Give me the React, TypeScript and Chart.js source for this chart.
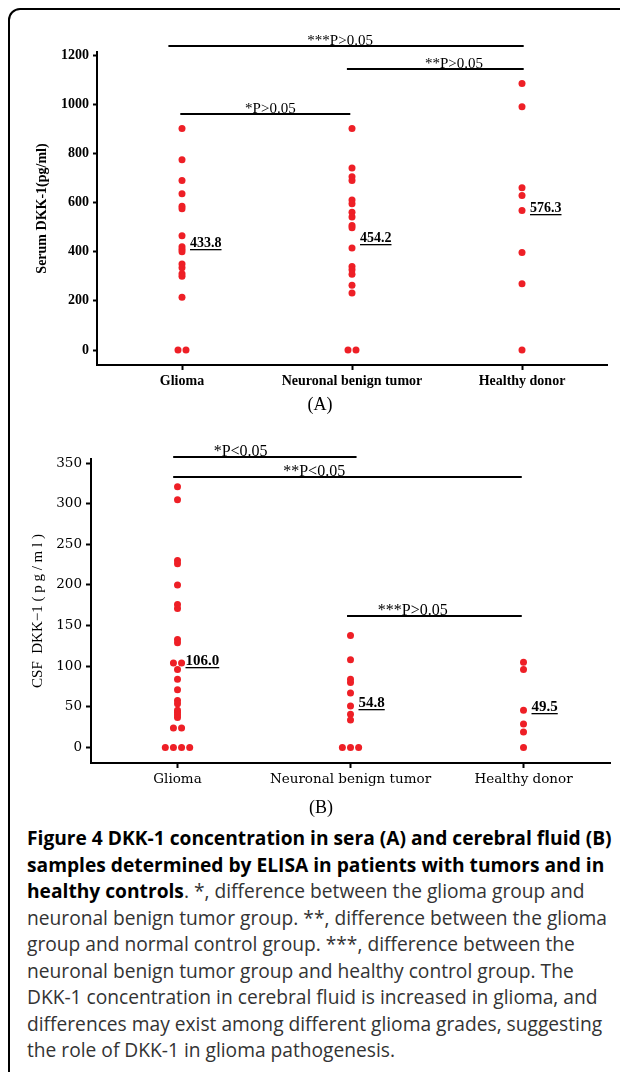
import React, { useEffect, useRef } from 'react';
import { Chart, registerables } from 'chart.js';

Chart.register(...registerables);

const categories = ['Glioma', 'Neuronal benign tumor', 'Healthy donor'];

// (A) Serum DKK-1 (pg/ml)
const serumGlioma = [902, 774, 690, 636, 585, 575, 465, 420, 410, 400, 350, 335, 310, 300, 215, 0, 0];
const serumNeuronal = [902, 741, 705, 690, 611, 595, 561, 541, 507, 498, 415, 340, 327, 308, 264, 232, 0, 0];
const serumHealthy = [1085, 990, 660, 629, 568, 397, 270, 0];
const serumMeans = [433.8, 454.2, 576.3];
const serumMeanLabels = ['433.8', '454.2', '576.3'];
const serumTicks = [0, 200, 400, 600, 800, 1000, 1200];
const serumBracketText = ['***P>0.05', '**P>0.05', '*P>0.05'];
const serumBracketFrom = [-0.08, 0.97, -0.01];
const serumBracketTo = [2.01, 2.01, 0.99];
const serumBracketLevel = [1236, 1144, 961];
const serumBracketLabelAt = [0.93, 1.6, 0.52];

// (B) CSF DKK-1 (pg/ml)
const csfGlioma = [321, 305, 230, 226, 200, 176, 171, 133, 129, 104, 104, 96, 84, 71, 58, 54, 46, 43, 40, 37, 24, 24, 0, 0, 0, 0];
const csfNeuronal = [138, 108, 84, 80, 67, 51, 41, 34, 0, 0, 0];
const csfHealthy = [105, 96, 46, 29, 19, 0];
const csfMeans = [106.0, 54.8, 49.5];
const csfMeanLabels = ['106.0', '54.8', '49.5'];
const csfTicks = [0, 50, 100, 150, 200, 250, 300, 350];
const csfBracketText = ['*P<0.05', '**P<0.05', '***P>0.05'];
const csfBracketFrom = [-0.025, -0.025, 0.98];
const csfBracketTo = [1.035, 1.99, 1.99];
const csfBracketLevel = [358, 333, 162];
const csfBracketLabelAt = [0.365, 0.79, 1.36];

const RED = '#EE1F26';

function buildPoints(groups: number[][], step: number) {
  const pts: { x: number; y: number }[] = [];
  groups.forEach((vals, ci) => {
    const counts = new Map<number, number>();
    vals.forEach((v) => counts.set(v, (counts.get(v) || 0) + 1));
    const seen = new Map<number, number>();
    vals.forEach((v) => {
      const n = counts.get(v)!;
      const k = seen.get(v) || 0;
      seen.set(v, k + 1);
      pts.push({ x: ci + (k - (n - 1) / 2) * step, y: v });
    });
  });
  return pts;
}

type Panel = {
  groups: number[][];
  step: number;
  yMin: number;
  yMax: number;
  yTicks: number[];
  means: number[];
  meanLabels: string[];
  bText: string[];
  bFrom: number[];
  bTo: number[];
  bLevel: number[];
  bLabelAt: number[];
  tickFont: any;
  titleText: string;
  titleFont: any;
  titlePad: number;
  meanFont: string;
  bracketFont: string;
  padTop: number;
  padRight: number;
  yWidth: number;
  xHeight: number;
  yTickLen: number;
};

function makeConfig(p: Panel): any {
  const overlay = {
    id: 'overlay',
    afterDraw(chart: any) {
      const ctx = chart.ctx;
      const xs = chart.scales.x;
      const ys = chart.scales.y;
      ctx.save();
      ctx.strokeStyle = '#000';
      ctx.fillStyle = '#000';
      ctx.lineWidth = 2;
      p.bText.forEach((t, i) => {
        const x1 = xs.getPixelForValue(p.bFrom[i]);
        const x2 = xs.getPixelForValue(p.bTo[i]);
        const y = Math.round(ys.getPixelForValue(p.bLevel[i]));
        ctx.beginPath();
        ctx.moveTo(x1, y);
        ctx.lineTo(x2, y);
        ctx.stroke();
        ctx.font = p.bracketFont;
        ctx.textAlign = 'center';
        ctx.textBaseline = 'alphabetic';
        ctx.fillText(t, xs.getPixelForValue(p.bLabelAt[i]), y - 1);
      });
      ctx.font = p.meanFont;
      ctx.textAlign = 'left';
      ctx.textBaseline = 'middle';
      p.means.forEach((m, i) => {
        const x = xs.getPixelForValue(i) + 8;
        const y = ys.getPixelForValue(m);
        ctx.fillText(p.meanLabels[i], x, y);
        const w = ctx.measureText(p.meanLabels[i]).width;
        ctx.fillRect(x, Math.round(y + 6), w, 1.3);
      });
      ctx.restore();
    },
  };

  return {
    type: 'scatter',
    data: {
      datasets: [
        {
          data: buildPoints(p.groups, p.step),
          backgroundColor: RED,
          borderColor: RED,
          borderWidth: 0,
          pointRadius: 3.5,
          pointHoverRadius: 3.5,
        },
      ],
    },
    options: {
      animation: false,
      responsive: false,
      devicePixelRatio: 1,
      events: [],
      layout: { padding: { top: p.padTop, right: p.padRight, left: 0, bottom: 0 } },
      plugins: { legend: { display: false }, tooltip: { enabled: false } },
      scales: {
        x: {
          type: 'linear',
          min: -0.5,
          max: 2.5,
          afterBuildTicks: (s: any) => {
            s.ticks = categories.map((_, i) => ({ value: i }));
          },
          afterFit: (s: any) => {
            s.height = p.xHeight;
          },
          ticks: {
            callback: (v: any) => categories[v] ?? '',
            font: p.tickFont,
            color: '#000',
            padding: 3,
            autoSkip: false,
            maxRotation: 0,
          },
          grid: {
            display: true,
            drawOnChartArea: false,
            drawTicks: true,
            tickLength: 5,
            tickWidth: 2,
            tickColor: '#000',
            color: '#000',
          },
          border: { display: true, color: '#000', width: 2 },
        },
        y: {
          type: 'linear',
          min: p.yMin,
          max: p.yMax,
          afterBuildTicks: (s: any) => {
            s.ticks = p.yTicks.map((v) => ({ value: v }));
          },
          afterFit: (s: any) => {
            s.width = p.yWidth;
          },
          ticks: { font: p.tickFont, color: '#000', padding: 4, callback: (v: any) => String(v) },
          grid: {
            display: true,
            drawOnChartArea: false,
            drawTicks: true,
            tickLength: p.yTickLen,
            tickWidth: 2,
            tickColor: '#000',
            color: '#000',
          },
          border: { display: true, color: '#000', width: 2 },
          title: {
            display: true,
            text: p.titleText,
            font: p.titleFont,
            color: '#000',
            padding: { top: p.titlePad, bottom: 0 },
          },
        },
      },
    },
    plugins: [overlay],
  };
}

const panelA: Panel = {
  groups: [serumGlioma, serumNeuronal, serumHealthy],
  step: 0.047,
  yMin: -61,
  yMax: 1213,
  yTicks: serumTicks,
  means: serumMeans,
  meanLabels: serumMeanLabels,
  bText: serumBracketText,
  bFrom: serumBracketFrom,
  bTo: serumBracketTo,
  bLevel: serumBracketLevel,
  bLabelAt: serumBracketLabelAt,
  tickFont: { family: '"Liberation Serif", "Times New Roman", serif', size: 14, weight: 'bold' },
  titleText: 'Serum DKK-1(pg/ml)',
  titleFont: { family: '"Liberation Serif", "Times New Roman", serif', size: 14, weight: 'bold' },
  titlePad: 23.6,
  meanFont: 'bold 14px "Liberation Serif", serif',
  bracketFont: '15px "Liberation Serif", serif',
  padTop: 42,
  padRight: 13,
  yWidth: 87,
  xHeight: 55,
  yTickLen: 4,
};

const panelB: Panel = {
  groups: [csfGlioma, csfNeuronal, csfHealthy],
  step: 0.047,
  yMin: -19,
  yMax: 355,
  yTicks: csfTicks,
  means: csfMeans,
  meanLabels: csfMeanLabels,
  bText: csfBracketText,
  bFrom: csfBracketFrom,
  bTo: csfBracketTo,
  bLevel: csfBracketLevel,
  bLabelAt: csfBracketLabelAt,
  tickFont: { family: '"DejaVu Serif", serif', size: 13.5, weight: 'normal' },
  titleText: 'CSF  DKK−1 ( p g / m l )',
  titleFont: { family: '"Liberation Serif", serif', size: 15, weight: 'normal' },
  titlePad: 19,
  meanFont: 'bold 15px "Liberation Serif", serif',
  bracketFont: '16px "Liberation Serif", serif',
  padTop: 34,
  padRight: 10,
  yWidth: 81,
  xHeight: 57,
  yTickLen: 5,
};

const captionLines: { bold?: string; text?: string }[] = [
  { bold: 'Figure 4 DKK-1 concentration in sera (A) and cerebral fluid (B)' },
  { bold: 'samples determined by ELISA in patients with tumors and in' },
  { bold: 'healthy controls', text: '. *, difference between the glioma group and' },
  { text: 'neuronal benign tumor group. **, difference between the glioma' },
  { text: 'group and normal control group. ***, difference between the' },
  { text: 'neuronal benign tumor group and healthy control group. The' },
  { text: 'DKK-1 concentration in cerebral fluid is increased in glioma, and' },
  { text: 'differences may exist among different glioma grades, suggesting' },
  { text: 'the role of DKK-1 in glioma pathogenesis.' },
];

export default function App() {
  const refA = useRef<HTMLCanvasElement>(null);
  const refB = useRef<HTMLCanvasElement>(null);

  useEffect(() => {
    const a = new Chart(refA.current!, makeConfig(panelA));
    const b = new Chart(refB.current!, makeConfig(panelB));
    return () => {
      a.destroy();
      b.destroy();
    };
  }, []);

  const panelLabel = (text: string, cx: number, cy: number) => (
    <div
      style={{
        position: 'absolute',
        left: cx - 50,
        top: cy - 11,
        width: 100,
        textAlign: 'center',
        font: '18px "Liberation Serif", serif',
        lineHeight: '22px',
        color: '#000',
      }}
    >
      {text}
    </div>
  );

  return (
    <div
      style={{
        position: 'fixed',
        left: 0,
        top: 0,
        width: 620,
        height: 1072,
        overflow: 'hidden',
        background: '#fff',
      }}
    >
      <div
        style={{
          position: 'absolute',
          left: 8,
          top: 8,
          width: 700,
          height: 1200,
          border: '2px solid #000',
          borderTopLeftRadius: 12,
          boxSizing: 'border-box',
        }}
      />
      <canvas ref={refA} width={610} height={410} style={{ position: 'absolute', left: 10, top: 10 }} />
      {panelLabel('(A)', 320, 404)}
      <canvas ref={refB} width={610} height={395} style={{ position: 'absolute', left: 10, top: 425 }} />
      {panelLabel('(B)', 321, 807)}
      <div
        style={{
          position: 'absolute',
          left: 27,
          top: 825,
          fontFamily: '"Open Sans", sans-serif',
          fontSize: 19.2,
          lineHeight: '26.5px',
          color: '#333',
          whiteSpace: 'nowrap',
        }}
      >
        {captionLines.map((l, i) => (
          <div key={i}>
            {l.bold ? <span style={{ fontWeight: 700, color: '#000' }}>{l.bold}</span> : null}
            {l.text ? <span>{l.text}</span> : null}
          </div>
        ))}
      </div>
    </div>
  );
}
